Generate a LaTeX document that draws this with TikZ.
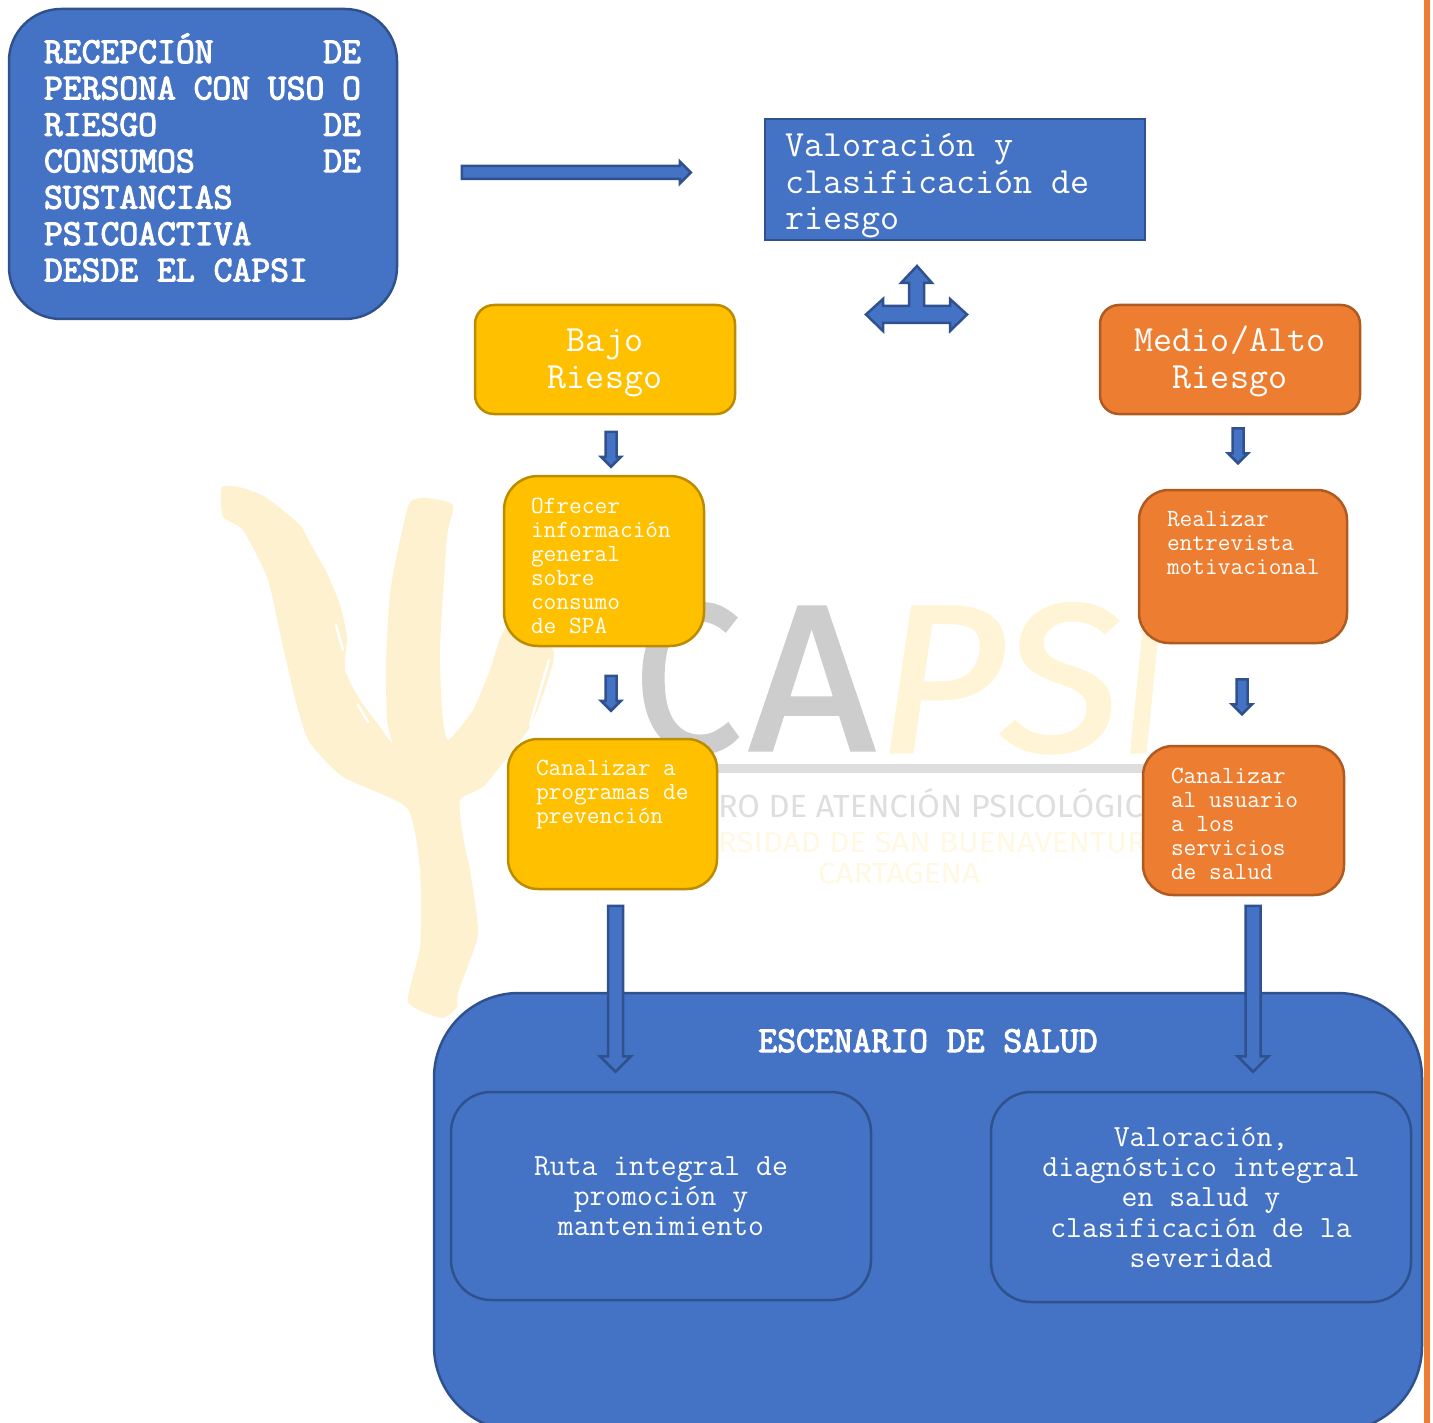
\documentclass[tikz,border=0pt]{standalone}
\usepackage{fontspec}
\usepackage{graphicx}
\newfontfamily\wmfont[FakeBold=1.6]{Fira Sans}
\newfontfamily\wmsmall{Fira Sans}
\newfontfamily\monobold[FakeBold=3]{Latin Modern Mono}
\usetikzlibrary{shapes.arrows}
\definecolor{bluefill}{HTML}{4472C4}
\definecolor{blueline}{HTML}{2F528F}
\definecolor{yelfill}{HTML}{FFC000}
\definecolor{yelline}{HTML}{BC8C00}
\definecolor{orafill}{HTML}{ED7D31}
\definecolor{oraline}{HTML}{AE5A21}
\definecolor{psicolor}{HTML}{FDF1CF}
\definecolor{wmgray}{HTML}{CDCDCD}
\definecolor{wmyellow}{HTML}{FFF5D6}
\definecolor{wmgrayb}{HTML}{DEDEDE}
\definecolor{wmyellowb}{HTML}{FFF8E3}
% #1 width, #2 height, #3 left pad, #4 first baseline from top, #5 text
\newcommand\bxt[5]{\hbox to #1pt{\hspace*{#3pt}\parbox[c][#2pt][t]{\dimexpr#1pt-#3pt\relax}{#5}\hss}}
\newcommand\fl[1]{\rule{0pt}{#1pt}}
\tikzset{
  bx/.style={draw,line width=2.5pt,inner sep=0pt,outer sep=0pt,text=white,align=left},
  bluebox/.style={bx,fill=bluefill,draw=blueline},
  yelbox/.style={bx,fill=yelfill,draw=yelline},
  orabox/.style={bx,fill=orafill,draw=oraline},
  bigtxt/.style={font=\ttfamily\fontsize{37}{36.4}\selectfont},
  boldtxt/.style={font=\monobold\fontsize{36.6}{36.4}\selectfont},
  smalltxt/.style={font=\ttfamily\fontsize{24.7}{24}\selectfont},
  midtxt/.style={font=\ttfamily\fontsize{30.8}{30.4}\selectfont},
  blockarrow/.style={single arrow,draw=blueline,fill=bluefill,line width=2.5pt,inner xsep=0pt,outer sep=0pt,
    single arrow head indent=0pt,single arrow tip angle=90},
  smalldown/.style={blockarrow,rotate=-90,minimum height=35pt,inner ysep=4.25pt,single arrow head extend=4.5pt},
  bigdown/.style={blockarrow,rotate=-90,minimum height=166pt,inner ysep=6.25pt,single arrow head extend=8pt},
  wm/.style={inner sep=0pt,outer sep=0pt,font=\wmfont\fontsize{100}{100}\selectfont},
  wms/.style={inner sep=0pt,outer sep=0pt,font=\wmsmall\fontsize{100}{100}\selectfont},
}
\begin{document}
\begin{tikzpicture}[x=1pt,y=-1pt]
\useasboundingbox (0,0) rectangle (1433,1423);
\clip (0,0) rectangle (1433,1423);
% orange rule at the right
\fill[orafill] (1424,0) rectangle (1430,1423);
% watermark: psi
\fill[psicolor] plot[smooth cycle,tension=0.35] coordinates {
 (222,487) (243,488) (267,498) (300,525) (310,543) (327,573) (340,605) (347,637) (345,670) (360,700) (380,727) (392,743)
 (387,720) (386,663) (390,593) (400,540) (410,502) (427,498) (453,505) (447,537) (440,647) (442,710) (448,740)
 (473,710) (490,670) (507,627) (553,650) (547,683) (530,727) (503,763) (483,787) (460,800) (463,837) (470,870)
 (477,917) (477,940) (458,993) (457,1007) (442,1018) (408,1002) (420,947) (420,870) (407,808) (343,777) (310,743)
 (298,710) (283,647) (268,580) (243,530) (223,517)};
\draw[white,line width=2.5pt,line cap=round] (336,625) -- (343,650);
\draw[white,line width=2.5pt,line cap=round] (358,705) -- (368,722);
\draw[white,line width=2.5pt,line cap=round] (549,660) -- (530,725);
% watermark: letters
\node[wm,text=wmgray,anchor=south west] (lc) at (633,753) {\resizebox{108pt}{147pt}{C}};
\node[wm,text=wmgray,anchor=south west] (la) at (749,750) {\resizebox{126pt}{143pt}{A}};
\node[wm,text=wmyellow,anchor=south west] (lp) at (878,752) {\resizebox{125pt}{145pt}{\itshape P}};
\node[wm,text=wmyellow,anchor=south west] (ls) at (1002,753) {\resizebox{118pt}{147pt}{\itshape S}};
\node[wm,text=wmyellow,anchor=south west] (li) at (1122,752) {\resizebox{44pt}{145pt}{\itshape I}};
\fill[wmgrayb] (650,764) rectangle (1160,773);
\node[wms,text=wmgrayb,anchor=base west] (wm1) at (718,817) {\fontsize{32}{32}\selectfont\scalebox{1.02}[1]{RO DE ATENCIÓN PSICOLÓGICA}};
\node[wms,text=wmyellowb,anchor=base west] (wm2) at (718,852) {\fontsize{29}{29}\selectfont\scalebox{1.08}[1]{RSIDAD DE SAN BUENAVENTUR}};
\node[wms,text=wmyellowb,anchor=base] (wm3) at (899,883) {\fontsize{29}{29}\selectfont\scalebox{1.08}[1]{CARTAGENA}};
% boxes
\node[bluebox,rounded corners=52pt,boldtxt] (recep) at (203,164) {\bxt{388}{310}{35}{54}{\fl{54}\makebox[317pt][s]{RECEPCIÓN\hfill DE}\\
\makebox[317pt][s]{PERSONA\hfill CON\hfill USO\hfill O}\\
\makebox[317pt][s]{RIESGO\hfill DE}\\
\makebox[317pt][s]{CONSUMOS\hfill DE}\\
SUSTANCIAS\\
PSICOACTIVA\\
DESDE EL CAPSI}};
\node[bluebox,bigtxt] (valor) at (955,179.5) {\bxt{380}{121}{20}{38}{\fl{38}Valoración y\\clasificación de\\riesgo}};
\node[yelbox,rounded corners=19pt,bigtxt] (bajo) at (605,359.5) {\bxt{260}{109}{0}{47}{\centering\fl{47}Bajo\\Riesgo}};
\node[orabox,rounded corners=19pt,bigtxt] (medio) at (1230,359.5) {\bxt{260}{109}{0}{47}{\centering\fl{47}Medio/Alto\\Riesgo}};
\node[yelbox,rounded corners=34pt,smalltxt] (ofrecer) at (604,561) {\bxt{200}{170}{27}{37}{\fl{37}Ofrecer\\información\\general\\sobre\\consumo\\de SPA}};
\node[orabox,rounded corners=30pt,smalltxt] (realizar) at (1243,566.5) {\bxt{208}{153}{28}{36}{\fl{36}Realizar\\entrevista\\motivacional}};
\node[yelbox,rounded corners=30pt,smalltxt] (canal) at (612.5,814) {\bxt{209}{150}{28}{36}{\fl{36}Canalizar a\\programas de\\prevención}};
\node[orabox,rounded corners=30pt,smalltxt] (canalb) at (1243.5,820.5) {\bxt{201}{149}{28}{37}{\fl{37}Canalizar\\al usuario\\a los\\servicios\\de salud}};
\node[bluebox,rounded corners=85pt,boldtxt] (escen) at (928,1212) {\bxt{988}{438}{0}{59}{\centering\fl{59}ESCENARIO DE SALUD}};
\node[bluebox,rounded corners=40pt,midtxt] (ruta) at (661,1196) {\bxt{420}{208}{0}{83}{\centering\fl{83}Ruta integral de\\promoción y\\mantenimiento}};
\node[bluebox,rounded corners=40pt,midtxt] (diag) at (1201,1197) {\bxt{420}{210}{0}{54}{\centering\fl{54}Valoración,\\diagnóstico integral\\en salud y\\clasificación de la\\severidad}};
% block arrows
\node[blockarrow,minimum height=229pt,inner ysep=5.25pt,single arrow head extend=4.5pt] (arrowh) at (573,172.5) {};
\draw[draw=blueline,fill=bluefill,line width=2.5pt,line join=miter] (917,266) -- (932,283) -- (924,283) -- (924,306) -- (950,306) -- (950,299) -- (967,314.5) -- (950,331) -- (950,323) -- (883,323) -- (883,331) -- (866,314.5) -- (883,299) -- (883,306) -- (909,306) -- (909,283) -- (901,283) -- cycle;
\node[smalldown] (d1) at (611,446.5) {};
\node[smalldown] (d2) at (611,690.5) {};
\node[smalldown] (d3) at (1238,443) {};
\node[smalldown] (d4) at (1242,694) {};
\node[bigdown] (d5) at (615.5,985) {};
\node[bigdown] (d6) at (1253,985) {};
\end{tikzpicture}
\end{document}
